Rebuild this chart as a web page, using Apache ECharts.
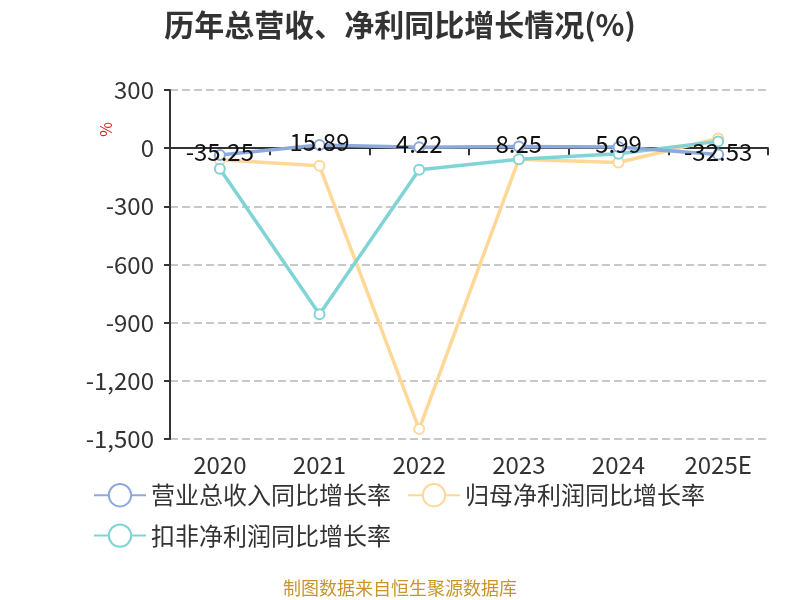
<!DOCTYPE html>
<html><head><meta charset="utf-8">
<script src="https://cdn.jsdelivr.net/npm/echarts@6/dist/echarts.min.js"></script>
<style>html,body{margin:0;padding:0;background:#fff}#c{width:800px;height:600px}</style>
</head><body><div id="c"></div>
<script>
const categories = ['2020', '2021', '2022', '2023', '2024', '2025E'];
const revenueGrowth = [-35.25, 15.89, 4.22, 8.25, 5.99, -32.53];
const netProfitGrowth = [-60, -91, -1449, -57, -74, 50];
const deductedGrowth = [-106, -857, -111, -57, -29, 35];
const seriesNames = ['营业总收入同比增长率', '归母净利润同比增长率', '扣非净利润同比增长率'];
const yTicks = { min: -1500, max: 300, interval: 300 };

const font = '"Microsoft YaHei","Noto Sans CJK SC","Noto Sans",sans-serif';
const chart = echarts.init(document.getElementById('c'));
const colors = ['#8eaadc', '#ffd898', '#80d4d6'];
function lineSeries(name, data, color, withLabel) {
  return {
    name: name, type: 'line', data: data, xAxisIndex: 0,
    symbol: 'emptyCircle', symbolSize: 10,
    lineStyle: { width: 3.5, color: color },
    itemStyle: { color: color, borderWidth: 2 },
    label: withLabel ? { show: true, position: 'inside', offset: [0, -3], color: '#111', fontSize: 24, fontFamily: font,
      formatter: p => p.value.toFixed(2) } : { show: false },
    z: withLabel ? 3 : 2
  };
}
chart.setOption({
  animation: false,
  textStyle: { fontFamily: font },
  title: { text: '历年总营收、净利同比增长情况(%)', left: 'center', top: 5,
    textStyle: { fontSize: 30, fontWeight: 'bold', color: '#333', fontFamily: font } },
  grid: { left: 170, right: 32, top: 90, bottom: 161, containLabel: false },
  legend: {
    data: seriesNames, left: 88, top: 478, width: 660, itemGap: 16,
    itemWidth: 52, itemHeight: 28,
    textStyle: { fontSize: 24, color: '#333', fontFamily: font }
  },
  xAxis: [
    { type: 'category', data: categories, position: 'bottom',
      axisLine: { show: false, onZero: false }, axisTick: { show: false },
      axisLabel: { fontSize: 24, color: '#333', margin: 14, fontFamily: font } },
    { type: 'category', data: categories, position: 'bottom',
      axisLine: { show: true, onZero: true, lineStyle: { color: '#333', width: 2 } },
      axisTick: { show: true, length: 7, lineStyle: { color: '#333', width: 2 } },
      axisLabel: { show: false } }
  ],
  yAxis: {
    type: 'value', min: yTicks.min, max: yTicks.max, interval: yTicks.interval,
    axisLine: { show: true, lineStyle: { color: '#333', width: 2 } },
    axisTick: { show: true, length: 6, lineStyle: { color: '#333', width: 2 } },
    axisLabel: { fontSize: 24, color: '#333', margin: 16, fontFamily: font },
    splitLine: { lineStyle: { type: 'dashed', color: '#c8c8c8', width: 2 } }
  },
  graphic: [
    { type: 'text', left: 98, top: 122, rotation: Math.PI / 2,
      style: { text: '%', fill: '#e02020', fontSize: 16, fontFamily: font } },
    { type: 'text', left: 'center', top: 579,
      style: { text: '制图数据来自恒生聚源数据库', fill: '#c9952a', fontSize: 18, fontFamily: font } }
  ],
  series: [
    lineSeries(seriesNames[0], revenueGrowth, colors[0], true),
    lineSeries(seriesNames[1], netProfitGrowth, colors[1], false),
    lineSeries(seriesNames[2], deductedGrowth, colors[2], false)
  ]
});
</script></body></html>
